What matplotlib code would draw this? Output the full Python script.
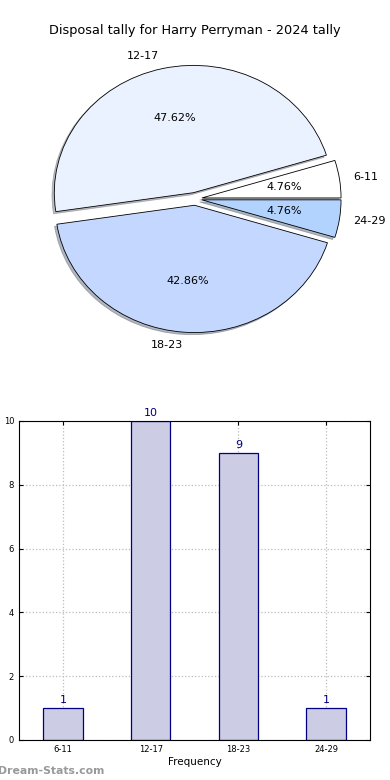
import numpy as np
import matplotlib.pyplot as plt

# tally per disposal bracket
categories = ['6-11', '12-17', '18-23', '24-29']
counts = [1, 10, 9, 1]
pie_colors = ['#FFFFFF', '#EBF2FF', '#C4D8FF', '#B3D3FF']

fig = plt.figure(figsize=(3.9, 7.8), dpi=100)

# pie on top
ax1 = fig.add_axes([0.054, 0.541, 0.892, 0.408])
ax1.pie(counts, labels=categories, colors=pie_colors, autopct='%1.2f%%',
        explode=[0.05] * len(counts),
        shadow={'ox': -0.012, 'oy': -0.012, 'shade': 0.5},
        startangle=0,
        wedgeprops={'edgecolor': 'black', 'linewidth': 0.6},
        textprops={'fontsize': 8})
ax1.set_aspect('auto')
ax1.set_xlim(-1.25, 1.25)
ax1.set_ylim(-1.25, 1.25)
fig.text(0.5, 0.961, 'Disposal tally for Harry Perryman - 2024 tally',
         ha='center', va='center', fontsize=9.3)

# bar chart below
ax2 = fig.add_axes([0.0487, 0.0513, 0.9003, 0.409])
x = np.arange(len(categories))
ax2.bar(x, counts, width=0.45, color='#CCCCE5', edgecolor='#000080', linewidth=0.9, zorder=2)
for xi, c in zip(x, counts):
    ax2.text(xi, c + 0.1, str(c), ha='center', va='bottom', color='#000080', fontsize=8)
ax2.set_xlim(-0.5, 3.5)
ax2.set_ylim(0, 10)
ax2.set_xticks(x)
ax2.set_xticklabels(categories)
ax2.set_yticks([0, 2, 4, 6, 8, 10])
ax2.tick_params(labelsize=6, direction='in', top=True, right=True, length=3)
ax2.grid(True, color='#BBBBBB', linestyle=':', linewidth=0.9, zorder=0)
ax2.set_axisbelow(True)
ax2.set_xlabel('Frequency', fontsize=7.5, labelpad=2)
ax2.set_ylabel('Disposal Tally', fontsize=7.5)
ax2.yaxis.set_label_coords(-0.06, 0.5)
for s in ax2.spines.values():
    s.set_linewidth(0.8)

fig.text(-0.005, 0.011, 'Dream-Stats.com', fontsize=7.8, color='#999999',
         fontweight='bold', ha='left', va='center')

fig.savefig('out.png', dpi=100)
